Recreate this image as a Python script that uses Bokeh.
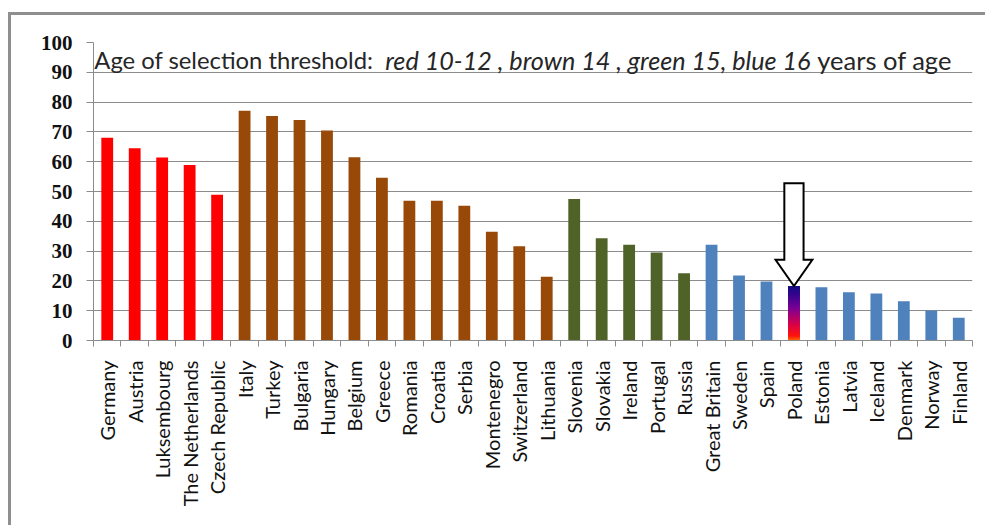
import math
from bokeh.plotting import figure
from bokeh.models import Range1d, FixedTicker, Label
from bokeh.embed import file_html
from bokeh.resources import INLINE

countries = ["Germany", "Austria", "Luksembourg", "The Netherlands", "Czech Republic",
             "Italy", "Turkey", "Bulgaria", "Hungary", "Belgium", "Greece", "Romania",
             "Croatia", "Serbia", "Montenegro", "Switzerland", "Lithuania",
             "Slovenia", "Slovakia", "Ireland", "Portugal", "Russia",
             "Great Britain", "Sweden", "Spain", "Poland", "Estonia", "Latvia",
             "Iceland", "Denmark", "Norway", "Finland"]
values = [68.0, 64.5, 61.4, 58.9, 48.9,
          77.1, 75.3, 74.0, 70.5, 61.5, 54.6, 46.9, 46.9, 45.2, 36.5, 31.6, 21.4,
          47.5, 34.3, 32.1, 29.5, 22.6,
          32.1, 21.8, 19.8, 18.3, 17.9, 16.2, 15.8, 13.2, 10.1, 7.6]
thresholds = ["10-12", "10-12", "10-12", "10-12", "10-12",
              "14", "14", "14", "14", "14", "14", "14", "14", "14", "14", "14", "14",
              "15", "15", "15", "15", "15",
              "16", "16", "16", "16", "16", "16", "16", "16", "16", "16"]
highlight = "Poland"
y_ticks = [0, 10, 20, 30, 40, 50, 60, 70, 80, 90, 100]

group_colors = {"10-12": "#FF0000", "14": "#984807", "15": "#4F6228", "16": "#4F81BD"}
GRID = "#8c8c8c"

p = figure(width=977, height=513, x_range=Range1d(-0.5, len(countries) - 0.5),
           y_range=Range1d(0, 100), output_backend="svg", toolbar_location=None,
           min_border_left=82, min_border_top=27, min_border_right=16,
           min_border_bottom=188)
p.styles = {"border-left": "3px solid #8f8f8f", "border-top": "3px solid #8f8f8f",
            "margin-left": "8px", "margin-top": "12px"}
p.outline_line_color = None
p.background_fill_color = "white"
p.border_fill_color = "white"

p.xgrid.visible = False
p.ygrid.ticker = FixedTicker(ticks=y_ticks)
p.ygrid.grid_line_color = GRID
p.ygrid.grid_line_width = 1

ya = p.yaxis[0]
ya.ticker = FixedTicker(ticks=y_ticks)
ya.axis_line_color = GRID
ya.major_tick_line_color = GRID
ya.major_tick_out = 7
ya.major_tick_in = 0
ya.minor_tick_line_color = None
ya.major_label_text_font = "Liberation Serif"
ya.major_label_text_font_style = "bold"
ya.major_label_text_font_size = "21px"
ya.major_label_text_color = "#111111"
ya.major_label_standoff = 14

idx = list(range(len(countries)))
xa = p.xaxis[0]
xa.ticker = FixedTicker(ticks=idx, minor_ticks=[i - 0.5 for i in range(len(countries) + 1)])
xa.major_label_overrides = {i: c for i, c in zip(idx, countries)}
xa.axis_line_color = GRID
xa.major_tick_line_color = None
xa.major_tick_out = 6
xa.major_tick_in = 0
xa.minor_tick_line_color = GRID
xa.minor_tick_out = 6
xa.minor_tick_in = 0
xa.major_label_orientation = math.pi / 2
xa.major_label_text_font = "Lato"
xa.major_label_text_font_size = "20px"
xa.major_label_text_color = "#111111"
xa.major_label_standoff = 14

BW = 0.43
bx, bt, bc = [], [], []
for i, (c, v, t) in enumerate(zip(countries, values, thresholds)):
    if c == highlight:
        continue
    bx.append(i); bt.append(v); bc.append(group_colors[t])
p.vbar(x=bx, top=bt, width=BW, fill_color=bc, line_color=None)

# gradient bar for the highlighted country
hi = countries.index(highlight)
hv = values[hi]
stops = [(0.0, (255, 110, 0)), (0.08, (255, 20, 10)), (0.3, (215, 0, 75)),
         (0.6, (120, 0, 150)), (0.85, (50, 5, 140)), (1.0, (20, 10, 130))]
n = 40
def interp(f):
    for (f0, c0), (f1, c1) in zip(stops[:-1], stops[1:]):
        if f0 <= f <= f1:
            t = (f - f0) / (f1 - f0) if f1 > f0 else 0
            return "#%02x%02x%02x" % tuple(int(round(a + (b - a) * t)) for a, b in zip(c0, c1))
    return "#%02x%02x%02x" % stops[-1][1]
step = hv / n
bots = [step * k for k in range(n)]
tops = [min(hv, step * (k + 2.5)) for k in range(n)]
cols = [interp((k + 0.5) / n) for k in range(n)]
p.vbar(x=[hi] * n, bottom=bots, top=tops, width=BW, fill_color=cols, line_color=None)

# arrow pointing at the highlighted bar
sw, hw = 0.35, 0.67
head, shaft = 8.8, 34.5
ax = [hi - sw, hi + sw, hi + sw, hi + hw, hi, hi - hw, hi - sw]
ay = [hv + shaft, hv + shaft, hv + head, hv + head, hv, hv + head, hv + head]
p.patch(ax, ay, fill_color="white", line_color="black", line_width=2, line_join="miter")

# title inside plot
TF = "Lato"
TC = "#262626"
TY = 94.0
p.add_layout(Label(x=-0.47, y=TY, text="Age of selection threshold: ", text_font=TF,
                   text_font_size="23.8px", text_color=TC, text_baseline="alphabetic"))
p.add_layout(Label(x=10.12, y=TY, text="red 10-12 , brown 14 , green 15, blue 16",
                   text_font=TF, text_font_size="25.2px", text_font_style="italic",
                   text_color=TC, text_baseline="alphabetic"))
p.add_layout(Label(x=25.85, y=TY, text="years of age", text_font=TF,
                   text_font_size="25.5px", text_color=TC, text_baseline="alphabetic"))

open("out.html", "w").write(file_html(p, INLINE))
